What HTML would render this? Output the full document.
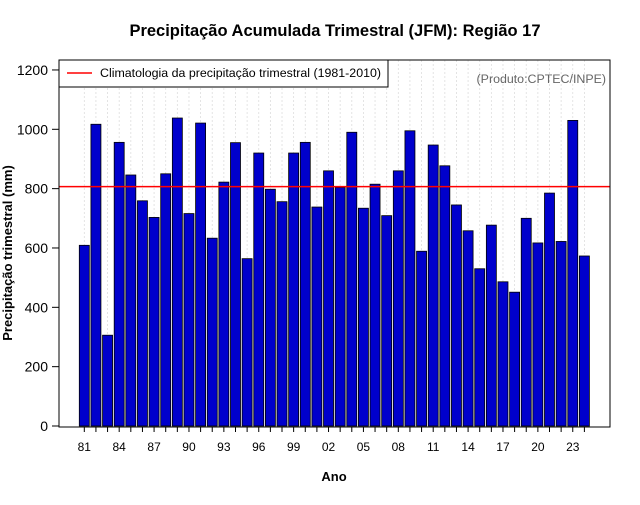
<!DOCTYPE html>
<html><head><meta charset="utf-8"><style>
body{margin:0;background:#fff}
svg text{font-family:"Liberation Sans",sans-serif}
</style></head><body>
<svg id="chart" width="640" height="500" xmlns="http://www.w3.org/2000/svg">
<text x="335" y="36" text-anchor="middle" font-size="16.5" font-weight="bold">Precipitação Acumulada Trimestral (JFM): Região 17</text>
<text x="334" y="481" text-anchor="middle" font-size="13" font-weight="bold">Ano</text>
<text transform="translate(12,253) rotate(-90)" text-anchor="middle" font-size="13" font-weight="bold">Precipitação trimestral (mm)</text>
<g id="grid"></g><g id="bars"></g><g id="axes"></g>
<line id="clim" x1="59" x2="610" stroke="#ff0000" stroke-width="1.5"/>
<rect x="59" y="60" width="551" height="367" fill="none" stroke="#000" stroke-width="1"/>
<g>
<rect x="59" y="60" width="329" height="27" fill="#fff" stroke="#000"/>
<line x1="67" x2="92" y1="73" y2="73" stroke="#ff0000" stroke-width="1.5"/>
<text x="100" y="77" font-size="12.4">Climatologia da precipitação trimestral (1981-2010)</text>
</g>
<text x="606" y="83" text-anchor="end" font-size="12.4" fill="#666">(Produto:CPTEC/INPE)</text>
</svg>
<script>
const years=[1981,1982,1983,1984,1985,1986,1987,1988,1989,1990,1991,1992,1993,1994,1995,1996,1997,1998,1999,2000,2001,2002,2003,2004,2005,2006,2007,2008,2009,2010,2011,2012,2013,2014,2015,2016,2017,2018,2019,2020,2021,2022,2023,2024];
const values=[609,1017,306,956,846,759,703,850,1038,716,1021,633,822,955,564,920,798,756,920,956,738,860,804,990,734,815,709,860,995,589,947,877,745,658,530,677,486,451,700,617,785,622,1030,573];
const climatology=807;
const yTicks=[0,200,400,600,800,1000,1200];
const NS="http://www.w3.org/2000/svg";
const y0=426,yScale=0.2967;
function ys(v){return y0-v*yScale;}
function xc(i){return 84.3+i*11.63;}
const grid=document.getElementById('grid'),bars=document.getElementById('bars'),axes=document.getElementById('axes');
function mk(tag,attrs,parent){const e=document.createElementNS(NS,tag);for(const k in attrs)e.setAttribute(k,attrs[k]);parent.appendChild(e);return e;}
years.forEach((yr,i)=>{
  const g=mk('line',{x1:xc(i),x2:xc(i),y1:60,y2:427,stroke:'#ddd','stroke-dasharray':'2,2','stroke-width':0.8},grid);
  
  
  const b=mk('rect',{x:xc(i)-5,y:ys(values[i]),width:10,height:values[i]*yScale,fill:'#0000cc',stroke:'#000','stroke-width':0.8},bars);
  
  
  const t=mk('line',{x1:xc(i),x2:xc(i),y1:427,y2:432,stroke:'#000'},axes);
  
  
  if(i%3===0){
    const l=mk('text',{x:xc(i),y:451,'text-anchor':'middle','font-size':12},axes);
    l.textContent=String(yr%100).padStart(2,'0');
    
    
  }
});
yTicks.forEach(v=>{
  const t=mk('line',{x1:52,x2:59,y1:ys(v),y2:ys(v),stroke:'#000'},axes);
  
  
  const l=mk('text',{x:48,y:ys(v)+5,'text-anchor':'end','font-size':14},axes);
  l.textContent=v;
  
  
});
const c=document.getElementById('clim');c.setAttribute('y1',ys(climatology));c.setAttribute('y2',ys(climatology));
</script>
</body></html>
